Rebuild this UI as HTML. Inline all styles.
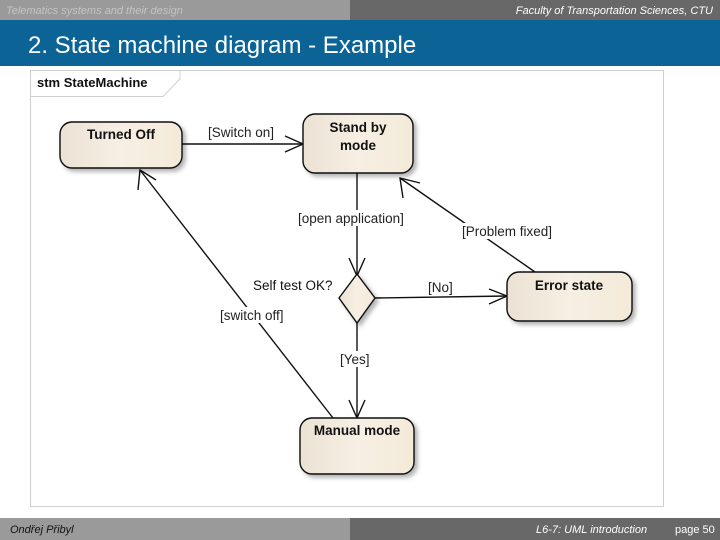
<!DOCTYPE html>
<html><head><style>
body{margin:0;width:720px;height:540px;overflow:hidden;background:#fff;font-family:"Liberation Sans",sans-serif;}
</style></head><body>
<svg width="720" height="540" xmlns="http://www.w3.org/2000/svg" style="position:absolute;left:0;top:0">
<defs>
<linearGradient id="g" x1="0" y1="0" x2="1" y2="0">
<stop offset="0" stop-color="#ebe2d4"/><stop offset="0.5" stop-color="#f7efe3"/><stop offset="1" stop-color="#f3ead9"/>
</linearGradient>
<filter id="s" x="-10%" y="-10%" width="130%" height="140%"><feDropShadow dx="3" dy="3" stdDeviation="2" flood-color="#000" flood-opacity="0.3"/></filter>
</defs>
<rect x="0" y="0" width="350" height="20" fill="#9a9a9a"/>
<rect x="350" y="0" width="370" height="20" fill="#686868"/>
<text x="6" y="14" font-size="11" font-style="italic" fill="#c4c4c4">Telematics systems and their design</text>
<text x="713" y="14" font-size="11" font-style="italic" fill="#fff" text-anchor="end">Faculty of Transportation Sciences, CTU</text>
<rect x="0" y="20" width="720" height="46" fill="#0b6396"/>
<text x="28" y="53" font-size="24" fill="#fff">2. State machine diagram - Example</text>
<rect x="30.5" y="70.5" width="633" height="436" fill="#fff" stroke="#cfcfcf"/>
<path d="M30.5 96.5 H163 L180 79 V70.5" fill="none" stroke="#cfcfcf"/>
<text x="37" y="87" font-size="13" font-weight="bold" fill="#111">stm StateMachine</text>
<g stroke="#111" stroke-width="1.4" fill="none">
<line x1="182" y1="144" x2="303" y2="144"/><path d="M285 136 L303 144 L285 152"/>
<line x1="357" y1="173" x2="357" y2="276"/><path d="M349 258 L357 276 L365 258"/>
<line x1="374" y1="298" x2="507" y2="296"/><path d="M489 289 L507 296 L489 304"/>
<line x1="535" y1="272" x2="400" y2="178"/><path d="M403 198 L400 178 L420 183"/>
<line x1="357" y1="322" x2="357" y2="418"/><path d="M349 400 L357 418 L365 400"/>
<line x1="333" y1="418" x2="140" y2="170"/><path d="M138 190 L140 170 L156 180"/>
</g>
<g fill="url(#g)" stroke="#111" stroke-width="1.4" filter="url(#s)">
<rect x="60" y="122" width="122" height="46" rx="12"/>
<rect x="303" y="114" width="110" height="59" rx="12"/>
<rect x="507" y="272" width="125" height="49" rx="12"/>
<rect x="300" y="418" width="114" height="56" rx="12"/>
<path d="M357 274 L375 298 L357 323 L339 298 Z"/>
</g>
<g font-size="13.5" font-weight="bold" fill="#111" text-anchor="middle">
<text x="121" y="139">Turned Off</text>
<text x="358" y="132">Stand by</text>
<text x="358" y="150">mode</text>
<text x="569" y="290">Error state</text>
<text x="357" y="435">Manual mode</text>
</g>
<g font-size="13.5" fill="#222">
<rect x="206" y="124" width="72" height="16" fill="#fff"/>
<text x="208" y="137">[Switch on]</text>
<rect x="296" y="210" width="112" height="16" fill="#fff"/>
<text x="298" y="223">[open application]</text>
<rect x="461" y="223" width="96" height="16" fill="#fff"/>
<text x="462" y="236">[Problem fixed]</text>
<text x="253" y="290" fill="#111">Self test OK?</text>
<text x="428" y="292">[No]</text>
<rect x="218" y="307" width="72" height="16" fill="#fff"/>
<text x="220" y="320">[switch off]</text>
<rect x="339" y="351" width="35" height="16" fill="#fff"/>
<text x="340" y="364">[Yes]</text>
</g>
<rect x="0" y="518" width="350" height="22" fill="#9a9a9a"/>
<rect x="350" y="518" width="370" height="22" fill="#686868"/>
<text x="10" y="533" font-size="11" font-style="italic" fill="#111">Ondřej Přibyl</text>
<text x="536" y="533" font-size="11" font-style="italic" fill="#fff">L6-7: UML introduction</text>
<text x="675" y="533" font-size="11" fill="#fff">page 50</text>
</svg>
</body></html>
